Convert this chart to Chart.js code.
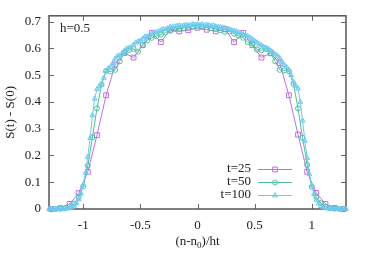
<!DOCTYPE html>
<html>
<head>
<meta charset="utf-8">
<script src="https://cdn.jsdelivr.net/npm/chart.js@4.4.1/dist/chart.umd.min.js"></script>
<style>
    html, body { margin: 0; padding: 0; background: #fff; }
</style>
</head>
<body>
<canvas id="myChart" width="374" height="262"></canvas>
<script>
const H = 0.5;
const TIMES = [25, 50, 100];
const SERIES_LABELS = ['t=25', 't=50', 't=100'];
const X_TICKS = [-1, -0.5, 0, 0.5, 1];
const Y_TICKS = [0, 0.1, 0.2, 0.3, 0.4, 0.5, 0.6, 0.7];

// t=25, x from -1.28 to 1.28 (step 1/(h t))
const S25 = [
    0, 0.003, 0.019, 0.059, 0.139, 0.276, 0.425, 0.54, 0.583, 0.566, 0.612,
    0.658, 0.624, 0.670, 0.664, 0.668, 0.677, 0.670, 0.664, 0.672, 0.624,
    0.658, 0.612, 0.566, 0.582, 0.545, 0.425, 0.278, 0.139, 0.060, 0.019,
    0.004, 0
];

// t=50, x from -1.28 to 1.28
const S50 = [
    0, 0, 0.001, 0.003, 0.008, 0.02, 0.045, 0.085, 0.162, 0.268, 0.376,
    0.465, 0.516, 0.514, 0.52, 0.552, 0.584, 0.594, 0.598, 0.588, 0.614,
    0.63, 0.64, 0.646, 0.652, 0.66, 0.666, 0.672, 0.674, 0.676, 0.68, 0.682,
    0.682,
    0.68, 0.68, 0.676, 0.674, 0.668, 0.662, 0.664, 0.655, 0.648, 0.64, 0.624,
    0.618, 0.596, 0.593, 0.598, 0.582, 0.552, 0.52, 0.518, 0.515, 0.468,
    0.376, 0.266, 0.165, 0.083, 0.046, 0.022, 0.009, 0.003, 0.001, 0, 0
];

// t=100, x from -1.30 to 1.30
const S100 = [
    0, 0, 0, 0, 0.001, 0.001, 0.001, 0.002, 0.002, 0.003, 0.006, 0.012,
    0.022, 0.036, 0.058, 0.09, 0.135, 0.195, 0.265, 0.35, 0.412, 0.448,
    0.458, 0.468, 0.49, 0.515, 0.526, 0.532, 0.545, 0.562, 0.572, 0.574,
    0.58, 0.592, 0.6, 0.602, 0.604, 0.614, 0.622, 0.626, 0.628, 0.636,
    0.644, 0.645, 0.648, 0.654, 0.66, 0.66, 0.664, 0.668, 0.672, 0.672,
    0.676, 0.68, 0.68, 0.682, 0.684, 0.686, 0.684, 0.686, 0.688, 0.686,
    0.688, 0.69, 0.688, 0.69,
    0.688, 0.69, 0.686, 0.688, 0.686, 0.684, 0.686, 0.682, 0.68, 0.68,
    0.678, 0.676, 0.674, 0.672, 0.668, 0.666, 0.664, 0.66, 0.656, 0.652,
    0.648, 0.646, 0.64, 0.634, 0.628, 0.622, 0.616, 0.612, 0.606, 0.602,
    0.598, 0.592, 0.586, 0.578, 0.572, 0.564, 0.55, 0.538, 0.53, 0.52,
    0.5, 0.475, 0.46, 0.45, 0.4, 0.33, 0.255, 0.19, 0.13, 0.088, 0.056,
    0.034, 0.02, 0.011, 0.006, 0.003, 0.002, 0.001, 0.001, 0.001, 0, 0, 0,
    0, 0
];

const COLORS = ['#c06ee8', '#4cbf98', '#6ccaf0'];
const FILLS = ['rgba(255,255,255,0)', 'rgba(255,255,255,0)', 'rgba(108,202,240,0.35)'];
const POINT_STYLES = ['rect', 'circle', 'triangle'];
const POINT_RADII = [3.4, 2.5, 2.8];
const FONT = '"Liberation Serif", "Times New Roman", serif';

function toPoints(values, t) {
    const mid = (values.length - 1) / 2;
    return values.map((v, i) => ({ x: (i - mid) / (H * t), y: v }));
}

const seriesValues = [S25, S50, S100];

const datasets = seriesValues.map((vals, k) => ({
    label: SERIES_LABELS[k],
    data: toPoints(vals, TIMES[k]),
    showLine: true,
    borderColor: COLORS[k],
    borderWidth: 1,
    pointStyle: POINT_STYLES[k],
    pointRadius: POINT_RADII[k],
    pointBorderWidth: 1,
    pointBorderColor: COLORS[k],
    pointBackgroundColor: FILLS[k],
    clip: false,
    order: 3 - k
}));

function drawMarker(ctx, style, r, x, y) {
    ctx.beginPath();
    if (style === 'rect') {
        const s = r * Math.SQRT1_2;
        ctx.rect(x - s, y - s, 2 * s, 2 * s);
    } else if (style === 'circle') {
        ctx.arc(x, y, r, 0, Math.PI * 2);
    } else {
        ctx.moveTo(x, y - r);
        ctx.lineTo(x + r * 0.866, y + r * 0.5);
        ctx.lineTo(x - r * 0.866, y + r * 0.5);
        ctx.closePath();
    }
}

// frame with inward ticks on all sides (gnuplot style)
const framePlugin = {
    id: 'frame',
    beforeDatasetsDraw(chart) {
        const { ctx, chartArea: a, scales: { x, y } } = chart;
        ctx.save();
        ctx.strokeStyle = '#666';
        ctx.lineWidth = 1;
        ctx.beginPath();
        X_TICKS.forEach(v => {
            const px = Math.round(x.getPixelForValue(v)) + 0.5;
            ctx.moveTo(px, a.bottom); ctx.lineTo(px, a.bottom - 5);
            ctx.moveTo(px, a.top); ctx.lineTo(px, a.top + 5);
        });
        Y_TICKS.forEach(v => {
            const py = Math.round(y.getPixelForValue(v)) + 0.5;
            ctx.moveTo(a.left, py); ctx.lineTo(a.left + 5, py);
            ctx.moveTo(a.right, py); ctx.lineTo(a.right - 5, py);
        });
        ctx.stroke();
        ctx.lineWidth = 1.5;
        ctx.strokeStyle = '#555';
        ctx.strokeRect(a.left, a.top, a.right - a.left, a.bottom - a.top);
        ctx.restore();
    },
    afterDraw(chart) {
        const { ctx, chartArea: a } = chart;
        ctx.save();
        ctx.fillStyle = '#222';
        ctx.font = '13px ' + FONT;
        ctx.textBaseline = 'middle';

        // label inside plot
        ctx.textAlign = 'left';
        ctx.fillText('h=0.5', 60, 29);

        // legend
        SERIES_LABELS.forEach((lab, k) => {
            const ly = 169 + 13 * k;
            ctx.fillStyle = '#222';
            ctx.textAlign = 'right';
            ctx.fillText(lab, 251, ly);
            ctx.strokeStyle = COLORS[k];
            ctx.lineWidth = 1;
            ctx.beginPath();
            ctx.moveTo(258, ly + 0.5); ctx.lineTo(292, ly + 0.5);
            ctx.stroke();
            drawMarker(ctx, POINT_STYLES[k], POINT_RADII[k], 275, ly + 0.5);
            ctx.fillStyle = FILLS[k];
            ctx.fill();
            ctx.stroke();
        });

        // y title
        ctx.fillStyle = '#222';
        ctx.save();
        ctx.translate(11, (a.top + a.bottom) / 2);
        ctx.rotate(-Math.PI / 2);
        ctx.textAlign = 'center';
        ctx.fillText('S(t) - S(0)', 0, 0);
        ctx.restore();

        // x title with subscript
        const partA = '(n-n', sub = '0', partB = ')/ht';
        ctx.font = '13px ' + FONT;
        const wA = ctx.measureText(partA).width;
        const wB = ctx.measureText(partB).width;
        ctx.font = '9px ' + FONT;
        const wS = ctx.measureText(sub).width;
        const total = wA + wS + wB;
        let tx = (a.left + a.right) / 2 - total / 2;
        const ty = 242;
        ctx.textAlign = 'left';
        ctx.font = '13px ' + FONT;
        ctx.fillText(partA, tx, ty);
        tx += wA;
        ctx.font = '9px ' + FONT;
        ctx.fillText(sub, tx, ty + 4);
        tx += wS;
        ctx.font = '13px ' + FONT;
        ctx.fillText(partB, tx, ty);
        ctx.restore();
    }
};

new Chart(document.getElementById('myChart').getContext('2d'), {
    type: 'scatter',
    data: { datasets: datasets },
    options: {
        responsive: false,
        animation: false,
        layout: { padding: { top: 15, right: 28, left: 0, bottom: 0 } },
        plugins: {
            legend: { display: false },
            tooltip: { enabled: false }
        },
        scales: {
            x: {
                type: 'linear',
                min: -1.3,
                max: 1.3,
                afterBuildTicks: s => { s.ticks = X_TICKS.map(v => ({ value: v })); },
                afterFit: s => { s.height = 53; },
                grid: { display: false, drawTicks: false },
                border: { display: false },
                ticks: {
                    padding: 9,
                    color: '#222',
                    font: { family: FONT, size: 13 },
                    maxRotation: 0,
                    callback: v => String(v)
                }
            },
            y: {
                type: 'linear',
                min: 0,
                max: 0.722,
                afterBuildTicks: s => { s.ticks = Y_TICKS.map(v => ({ value: v })); },
                afterFit: s => { s.width = 49; },
                grid: { display: false, drawTicks: false },
                border: { display: false },
                ticks: {
                    padding: 8,
                    color: '#222',
                    font: { family: FONT, size: 13 },
                    callback: v => String(Math.round(v * 10) / 10)
                }
            }
        }
    },
    plugins: [framePlugin]
});
</script>
</body>
</html>
